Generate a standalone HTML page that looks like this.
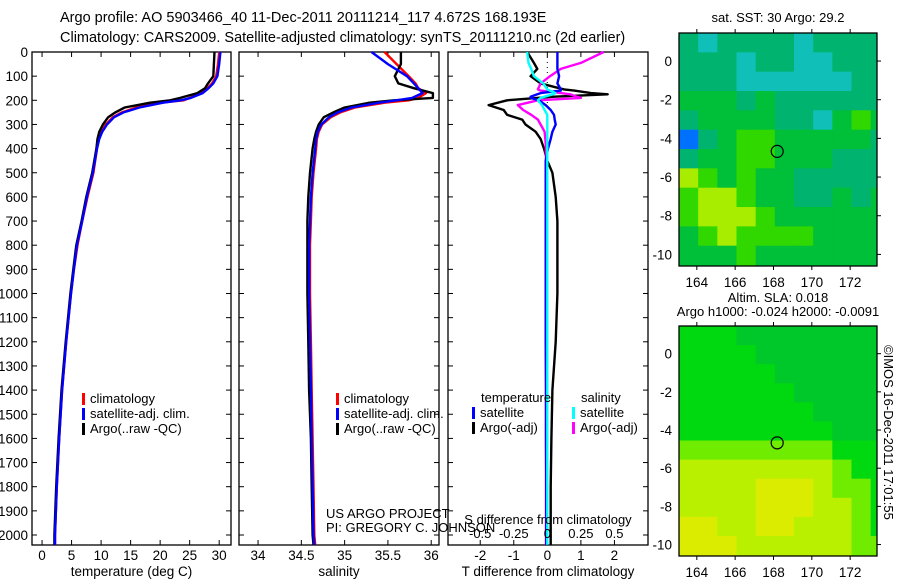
<!DOCTYPE html>
<html><head><meta charset="utf-8"><style>
html,body{margin:0;padding:0;background:#fff;}
svg{display:block;font-family:"Liberation Sans",sans-serif;}
</style></head><body>
<svg id="c" width="900" height="580" viewBox="0 0 900 580" xmlns="http://www.w3.org/2000/svg">
<text x="60" y="22" font-size="14.5">Argo profile: AO 5903466_40 11-Dec-2011 20111214_117 4.672S 168.193E</text>
<text x="60" y="42" font-size="14.5">Climatology: CARS2009. Satellite-adjusted climatology: synTS_20111210.nc (2d earlier)</text>
<text x="884" y="345" font-size="13" transform="rotate(90 884 345)">©IMOS 16-Dec-2011 17:01:55</text>
</svg>
<script>
// ---------- data ----------
const depths = [0,50,100,130,150,170,190,200,210,230,250,270,300,330,360,400,500,600,700,800,900,1000,1200,1400,1600,1800,2000,2040];
const tempClim = [30,29.8,29.5,28.8,28.0,27.0,25.0,24.0,20.0,16.0,13.5,12.0,10.8,10.0,9.6,9.3,8.7,7.7,6.8,6.0,5.4,4.9,4.1,3.4,2.9,2.5,2.2,2.2];
const tempSat  = [30.2,30.0,29.7,29.0,28.2,27.2,25.2,23.5,20.5,16.5,13.8,12.2,11.0,10.2,9.7,9.3,8.6,7.6,6.8,5.9,5.4,4.9,4.1,3.4,2.9,2.5,2.2,2.2];
const tempArgo = [29.2,29.1,29.0,28.1,27.6,26.3,23.4,21.7,18.3,14.0,12.4,11.2,10.3,9.7,9.4,9.2,8.5,7.5,6.7,5.8,5.3,4.8,4.0,3.3,2.8,2.4,2.1,2.1];
const salClim = [35.46,35.6,35.74,35.82,35.85,35.94,35.85,35.74,35.46,35.12,34.95,34.84,34.74,34.70,34.68,34.67,34.64,34.62,34.61,34.60,34.60,34.60,34.61,34.62,34.63,34.64,34.65,34.66];
const salSat  = [35.31,35.5,35.72,35.8,35.85,35.9,35.78,35.6,35.4,35.08,34.92,34.82,34.73,34.69,34.67,34.66,34.63,34.61,34.60,34.59,34.59,34.59,34.60,34.61,34.62,34.63,34.64,34.65];
const salArgo = [35.65,35.65,35.58,35.62,35.8,36.02,36.02,35.57,35.29,35.0,34.87,34.76,34.70,34.67,34.65,34.63,34.60,34.58,34.57,34.57,34.57,34.57,34.58,34.59,34.61,34.62,34.63,34.64];
const diffDepths = [0,45,70,100,130,155,160,170,175,185,190,200,220,240,260,280,300,330,360,400,450,500,600,700,800,1000,1200,1400,1600,1800,2040];
const tDiffArgo = [-0.6,-0.4,-0.3,-0.5,-0.2,0.5,0.8,1.3,1.8,0.2,-0.3,-1.2,-1.75,-1.3,-1.2,-0.75,-0.65,-0.35,-0.2,-0.1,0,0.15,0.25,0.3,0.3,0.3,0.25,0.15,0.12,0.1,0.1];
const tDiffSat  = [0.3,0.3,0.3,0.35,0.3,0.4,0.4,-0.2,-0.3,-0.5,-0.5,-0.25,-0.05,0.1,0.2,0.22,0.25,0.15,0.1,0.02,-0.05,-0.05,-0.05,-0.05,-0.05,-0.05,-0.05,-0.04,-0.04,-0.03,-0.03];
const sDiffArgo = [0.42,0.25,0.1,0.02,-0.05,-0.07,-0.05,0.1,0.17,0.22,0.25,-0.07,-0.22,-0.18,-0.12,-0.07,-0.05,-0.02,-0.015,-0.01,-0.01,-0.01,-0.01,-0.01,-0.01,-0.01,-0.01,-0.01,-0.01,-0.01,-0.01];
const sDiffSat  = [-0.15,-0.14,-0.12,-0.1,-0.03,0.0,0.02,0.06,0.04,-0.02,-0.05,-0.07,-0.04,-0.02,0.0,0.0,0.0,0.0,0.0,0.0,0.0,0.0,0.0,0.0,0.0,0.0,0.0,0.0,0.0,0.0,0.0];
const depthTicks = [0,100,200,300,400,500,600,700,800,900,1000,1100,1200,1300,1400,1500,1600,1700,1800,1900,2000];
const tempTicks = [0,5,10,15,20,25,30];
const salTicks = [34,34.5,35,35.5,36];
const tDiffTicks = [-2,-1,0,1,2];
const sDiffTicks = [-0.5,-0.25,0,0.25,0.5];
const lonTicks = [164,166,168,170,172];
const latTicks = [0,-2,-4,-6,-8,-10];
const argoLon = 168.193, argoLat = -4.672;
const sstGrid = [
[3,2,3,3,3,3,2,3,3,3,3],
[3,3,3,2,3,3,2,2,3,3,3],
[3,3,3,2,2,2,2,2,2,3,3],
[4,4,4,3,4,3,3,3,3,3,3],
[3,4,4,4,4,3,3,2,4,5,4],
[1,3,4,5,5,4,4,4,4,4,3],
[3,4,4,5,5,4,4,4,3,3,3],
[6,5,4,5,4,4,3,3,3,3,3],
[5,6,6,5,4,4,3,3,4,3,4],
[5,6,6,6,5,4,4,4,4,4,4],
[4,5,6,5,5,5,5,4,4,4,4],
[4,4,4,5,4,4,4,4,4,4,4]];
const slaGrid = [
[1,1,1,0,0,0,0,0,0,0,0],
[1,1,1,1,0,0,0,0,0,0,0],
[1,1,1,1,1,0,0,0,0,0,0],
[1,1,1,1,1,1,0,0,0,0,0],
[1,1,1,1,1,1,1,0,0,0,0],
[1,1,1,1,1,1,1,1,0,0,0],
[2,2,2,2,2,2,2,2,1,1,1],
[3,3,3,3,3,3,3,3,2,1,1],
[3,3,3,3,4,4,4,3,2,2,1],
[3,3,3,3,4,4,4,3,3,2,1],
[4,4,3,3,4,4,3,3,3,2,1],
[4,4,4,3,3,3,3,3,3,2,2]];
const sstColors = ['#001090','#0070ff','#10c0b8','#00b470','#00bf38','#30d800','#a8ec00'];
const slaColors = ['#00c82a','#00d810','#70ec00','#b8f000','#dcec00'];

// ---------- helpers ----------
const svg = document.getElementById('c');
const NS = 'http://www.w3.org/2000/svg';
function mk(tag, attrs, parent){ const e=document.createElementNS(NS,tag); for(const k in attrs) e.setAttribute(k,attrs[k]); (parent||svg).appendChild(e); return e; }
const yTop=52, yBot=545;
const yD = d => yTop + d*0.2415;

function panel(name, x0, x1, xmin, xmax, ticks, fmt, title, leftLabels){
  const sx = v => x0 + (v-xmin)/(xmax-xmin)*(x1-x0);
  const g = mk('g',{});
  
  
  const r = mk('rect',{x:x0,y:yTop,width:x1-x0,height:yBot-yTop,fill:'none',stroke:'#000','stroke-width':1.3},g);
  
  
  depthTicks.forEach(d=>{
    mk('line',{x1:x0,x2:x0+5,y1:yD(d),y2:yD(d),stroke:'#000'},g);
    mk('line',{x1:x1-5,x2:x1,y1:yD(d),y2:yD(d),stroke:'#000'},g);
    if(leftLabels){
      const t = mk('text',{x:x0-4,y:yD(d)+5,'font-size':13.5,'text-anchor':'end'},g);
      t.textContent = d;
      
      
    }
  });
  if(ticks){
    ticks.forEach(v=>{
      mk('line',{x1:sx(v),x2:sx(v),y1:yTop,y2:yTop+5,stroke:'#000'},g);
      mk('line',{x1:sx(v),x2:sx(v),y1:yBot-5,y2:yBot,stroke:'#000'},g);
      const t = mk('text',{x:sx(v),y:560,'font-size':13.5,'text-anchor':'middle'},g);
      t.textContent = fmt(v);
      
      
    });
  }
  if(title){
    const t = mk('text',{x:(x0+x1)/2,y:576,'font-size':13.5,'text-anchor':'middle'},g);
    t.textContent = title;
    
    
  }
  return {sx,g};
}
function line(p, vals, ds, color, nm, w){
  const pts = vals.map((v,i)=>p.sx(v).toFixed(1)+','+yD(ds[i]).toFixed(1)).join(' ');
  const l = mk('polyline',{points:pts,fill:'none',stroke:color,'stroke-width':w||2.4,'stroke-linejoin':'round'},p.g);
  
  
}
function legend(g, x, y, items){
  items.forEach((it,i)=>{
    const yy = y + i*15;
    mk('rect',{x:x,y:yy-10,width:3,height:12,fill:it[1]},g);
    const t = mk('text',{x:x+8,y:yy,'font-size':13},g);
    t.textContent = it[0];
    
    
  });
}

// ---------- panel 1 temperature ----------
const p1 = panel('temperature-panel', 32, 231, -1.7, 32.0, tempTicks, v=>v, 'temperature (deg C)', true);
line(p1, tempClim, depths, '#ff0000', 'temp-climatology-line');
line(p1, tempArgo, depths, '#000000', 'temp-argo-line');
line(p1, tempSat, depths, '#0000ff', 'temp-satellite-line');
legend(p1.g, 82, 403, [['climatology','#f00'],['satellite-adj. clim.','#00f'],['Argo(..raw -QC)','#000']]);

// ---------- panel 2 salinity ----------
const p2 = panel('salinity-panel', 239, 439, 33.78, 36.09, salTicks, v=>v, 'salinity', false);
line(p2, salClim, depths, '#ff0000', 'sal-climatology-line');
line(p2, salArgo, depths, '#000000', 'sal-argo-line');
line(p2, salSat, depths, '#0000ff', 'sal-satellite-line');
legend(p2.g, 336, 403, [['climatology','#f00'],['satellite-adj. clim.','#00f'],['Argo(..raw -QC)','#000']]);
const c1 = mk('text',{x:326,y:518,'font-size':13},p2.g); c1.textContent='US ARGO PROJECT';
 
const c2 = mk('text',{x:326,y:532,'font-size':13},p2.g); c2.textContent='PI: GREGORY C. JOHNSON';
 

// ---------- panel 3 differences ----------
const p3 = panel('difference-panel', 448, 648, -2.96, 3.0, tDiffTicks, v=>v, 'T difference from climatology', false);
const p3s = {sx: v => p3.sx(v*4), g: p3.g};
mk('line',{x1:p3.sx(0),x2:p3.sx(0),y1:yTop,y2:yD(220),stroke:'#000','stroke-dasharray':'1,4'},p3.g);
line(p3, tDiffArgo, diffDepths, '#000000', 'tdiff-argo-line');
line(p3s, sDiffArgo, diffDepths, '#ff00ff', 'sdiff-argo-line');
line(p3, tDiffSat, diffDepths, '#0000ff', 'tdiff-satellite-line');
line(p3s, sDiffSat, diffDepths, '#00ffff', 'sdiff-satellite-line');
sDiffTicks.forEach(v=>{
  const t = mk('text',{x:p3s.sx(v),y:538,'font-size':13,'text-anchor':'middle'},p3.g);
  t.textContent = v;
  
  
});
const st = mk('text',{x:548,y:524,'font-size':13,'text-anchor':'middle'},p3.g);
st.textContent='S difference from climatology';
 
const lh1 = mk('text',{x:481,y:402,'font-size':13},p3.g); lh1.textContent='temperature';
 
const lh2 = mk('text',{x:581,y:402,'font-size':13},p3.g); lh2.textContent='salinity';
 
legend(p3.g, 472, 417, [['satellite','#00f'],['Argo(-adj)','#000']]);
legend(p3.g, 572, 417, [['satellite','#0ff'],['Argo(-adj)','#f0f']]);

// ---------- maps ----------
function map(name, top, bot, grid, colors, t1, t2){
  const x0=679, x1=877, lon0=163.07, lon1=173.4;
  const lat0 = 1.45, lat1 = -10.6;
  const sx = v => x0 + (v-lon0)/(lon1-lon0)*(x1-x0);
  const sy = v => top + (lat0-v)/(lat0-lat1)*(bot-top);
  const g = mk('g',{});
  
  
  grid.forEach((row,r)=>row.forEach((v,c)=>{
    const la = lat0 - r, lo = lon0 + c;
    const xa = sx(lo), xb = Math.min(sx(lo+1), x1), ya = sy(la), yb = Math.min(sy(la-1), bot);
    const cell = mk('rect',{x:xa,y:ya,width:xb-xa+0.5,height:yb-ya+0.5,fill:colors[v]},g);
    
    
  }));
  mk('rect',{x:x0,y:top,width:x1-x0,height:bot-top,fill:'none',stroke:'#000','stroke-width':1.3},g);
  lonTicks.forEach(v=>{
    mk('line',{x1:sx(v),x2:sx(v),y1:top-4,y2:top,stroke:'#000'},g);
    mk('line',{x1:sx(v),x2:sx(v),y1:bot,y2:bot+4,stroke:'#000'},g);
    const t = mk('text',{x:sx(v),y:bot+21,'font-size':13.5,'text-anchor':'middle'},g);
    t.textContent=v;  
  });
  latTicks.forEach(v=>{
    mk('line',{x1:x1,x2:x1+4,y1:sy(v),y2:sy(v),stroke:'#000'},g);
    const t = mk('text',{x:x0-7,y:sy(v)+5,'font-size':13.5,'text-anchor':'end'},g);
    t.textContent=v;  
  });
  const m = mk('circle',{cx:sx(argoLon),cy:sy(argoLat),r:6,fill:'none',stroke:'#000','stroke-width':1.2},g);
  
  
  if(t1){ const t=mk('text',{x:778,y:top-(t2?24:11),'font-size':13,'text-anchor':'middle'},g); t.textContent=t1;
      }
  if(t2){ const t=mk('text',{x:778,y:top-10,'font-size':13,'text-anchor':'middle'},g); t.textContent=t2;
      }
}
map('sst-map', 33, 266, sstGrid, sstColors, 'sat. SST: 30 Argo: 29.2', null);
map('sla-map', 326, 556, slaGrid, slaColors, 'Altim. SLA: 0.018', 'Argo h1000: -0.024 h2000: -0.0091');
</script>
</body></html>
